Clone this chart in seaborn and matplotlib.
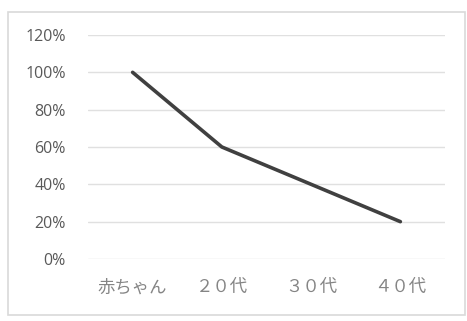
import matplotlib
matplotlib.use("Agg")
import matplotlib.pyplot as plt
import seaborn as sns
import pandas as pd
from matplotlib.patches import Rectangle
from matplotlib.ticker import PercentFormatter

categories = ["赤ちゃん", "２０代", "３０代", "４０代"]
values = [1.00, 0.60, 0.40, 0.20]
y_ticks = [0.0, 0.2, 0.4, 0.6, 0.8, 1.0, 1.2]

sns.set_theme(style="white")
plt.rcParams['font.family'] = ['Noto Sans CJK JP', 'DejaVu Sans']

df = pd.DataFrame({"cat": categories, "val": values})

fig = plt.figure(figsize=(4.67, 3.21), dpi=100)
fig.patch.set_facecolor("white")
fig.patches.append(Rectangle((8/467, 1-315/321), (465-8)/467, (315-12)/321,
                             transform=fig.transFigure, fill=False,
                             edgecolor="#d9d9d9", linewidth=1.2))
ax = fig.add_axes([88/467, 1-259/321, (445-88)/467, (259-35)/321])
ax.set_facecolor("white")

sns.lineplot(data=df, x="cat", y="val", ax=ax, color="#404040", linewidth=2.6, sort=False)

ax.set_xlim(-0.5, 3.5)
ax.set_ylim(0, 1.2)
ax.set_yticks(y_ticks)
ax.yaxis.set_major_formatter(PercentFormatter(1.0, decimals=0))
ax.grid(axis="y", color="#e0e0e0", linewidth=1.0)
ax.set_axisbelow(True)
for s in ax.spines.values():
    s.set_visible(False)
ax.tick_params(axis="y", length=0, pad=16, labelcolor="#595959")
ax.tick_params(axis="x", length=0, pad=14, labelcolor="#858585")
for lbl in ax.get_yticklabels():
    lbl.set_fontfamily(['Open Sans', 'DejaVu Sans'])
    lbl.set_fontsize(11.5)
for lbl in ax.get_xticklabels():
    lbl.set_fontsize(12.5)
ax.set_xlabel("")
ax.set_ylabel("")

fig.savefig("out.png", dpi=100)
